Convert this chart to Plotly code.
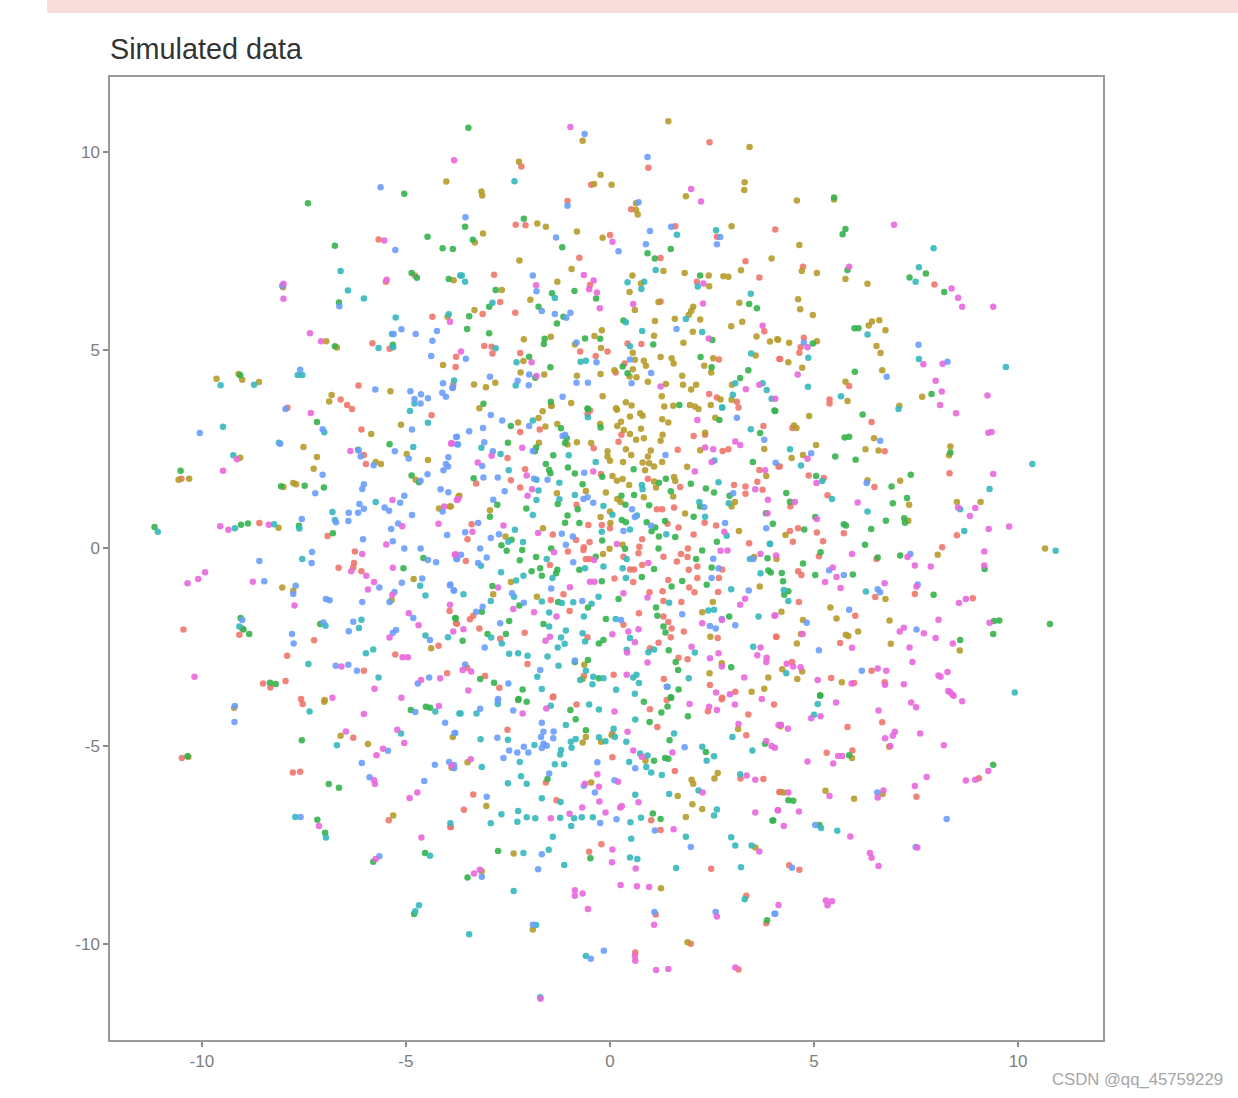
import plotly.graph_objs as go

# values, one list of (x, y) per group
red_pts = [
(-5.67,7.79),(-4.78,6.88),(-5.49,6.72),(-4.35,5.84),(-5.82,5.17),(-5.40,5.03),(-3.77,4.83),(-3.78,4.57),(-6.16,4.10),(-3.84,4.12),(-6.60,3.75),(-6.44,3.61),(-6.32,3.51),(-7.9,3.54),
(2.44,10.24),(-2.17,9.63),(0.94,9.60),(-0.46,9.17),(-1.04,8.76),(-2.31,8.16),(-2.07,8.15),(0.52,8.55),(1.60,8.12),(0.0,7.90),(-0.75,7.33),(1.24,7.32),(4.05,8.04),(2.62,7.86),(3.32,7.24),(3.66,6.83),(-2.84,6.90),(-0.49,6.64),(2.13,6.72),(-2.69,6.21),(-3.12,5.91),(-2.32,5.94),(1.24,6.22),(3.78,5.47),(-3.08,5.10),(-2.90,5.08),(-2.88,4.91),(-2.20,4.92),(-0.73,4.96),(-0.35,4.85),(-0.06,4.96),(0.43,5.16),(0.77,5.15),(0.36,4.66),(0.14,4.43),(2.67,4.76),(4.15,4.77),(2.43,3.89),(2.62,3.80),(3.11,3.69),(3.15,3.55),
(4.73,7.10),(7.95,6.65),(4.75,5.31),(4.67,5.07),(4.64,4.93),(4.17,4.77),(5.86,4.09),(5.38,3.75),(5.38,3.65),
(-4.37,3.35),(-6.09,2.99),(-6.03,2.35),(-5.98,2.12),(-10.50,1.75),(-8.59,0.63),(-6.92,0.30),(-6.25,-0.09),(-6.27,-0.38),(-6.29,-0.49),(-6.65,-0.50),(-6.09,-0.59),(-3.93,-1.59),(-3.75,-1.91),(-10.45,-2.06),(-9.08,-2.19),(-7.25,-2.33),(-4.20,-2.47),(-7.91,-2.72),(-5.26,-2.69),(-6.03,-3.10),(-7.95,-3.36),(-8.50,-3.42),(-8.32,-3.52),(-3.99,-3.16),(-7.57,-3.81),
(-7.53,-3.94),(-6.29,-4.79),(-10.49,-5.30),(-7.77,-5.67),(-7.59,-5.65),(-5.42,-6.87),(-3.91,-7.04),
(4.02,-3.95),(6.67,-4.40),(5.82,-4.52),(5.31,-5.17),(5.94,-5.11),(4.18,-6.16),(7.51,-6.28),(9.04,-5.81),(4.39,-8.01),(4.64,-8.12),
(6.41,3.18),(4.47,3.03),(6.73,2.44),(4.16,2.06),(4.87,1.83),(5.24,1.77),(8.32,1.89),(5.33,1.33),(6.48,1.54),(4.42,1.05),(5.07,0.39),(5.73,0.37),(4.61,0.50),(4.41,0.43),(4.48,0.16),(5.22,0.17),(8.50,0.32),(8.14,0.02),(5.12,-0.21),(6.53,-0.28),(4.61,-0.59),(4.69,-0.68),(6.50,-1.24),(7.47,-1.16),(4.63,-1.36),(8.89,-1.27),(6.01,-1.71),(4.08,-2.24),(5.64,-2.40),(4.46,-2.88),(6.41,-3.10),(5.42,-3.28),(5.98,-3.41),(6.73,-3.39),
(-0.55,3.38),(-0.49,3.47),(-2.20,2.93),(-1.72,2.99),(0.28,2.86),(0.21,2.68),(2.33,2.86),(2.05,2.83),(3.76,3.08),(1.66,2.48),(2.90,2.49),(2.76,2.45),(-2.51,2.27),(-0.40,2.52),(-2.08,1.99),(-0.22,1.87),(-3.28,1.63),(-2.43,1.71),(-2.20,1.53),(0.93,1.75),(1.72,1.54),(3.04,1.59),(3.32,1.55),(3.32,1.37),(3.66,1.97),(3.61,1.67),(3.74,1.47),(4.13,2.06),(-0.82,1.09),(1.15,0.98),(1.28,0.98),(1.57,1.02),(-3.39,0.60),(-0.53,0.58),(-0.20,0.58),(0,0.50),(1.41,0.61),(1.68,0.52),(2.32,0.64),(2.60,0.57),(-3.49,0.22),(-1.40,0.34),(2.05,0.34),(-0.50,0.15),(-0.83,0.20),(0.79,0.22),(3.41,0.12),(-0.64,0.02),(-0.65,-0.05),(-1.03,-0.09),(0.72,0.03),(0.70,-0.13),(0.33,-0.22),(1.91,-0.01),(1.74,-0.15),(1.90,-0.23),(1.31,-0.22),(1.64,-0.34),(-3.53,-0.33),(-1.47,-0.43),(-0.59,-0.28),(-0.50,-0.28),(0.49,-0.54),(0.59,-0.54),(0.79,-0.43),(1.93,-0.55),(2.14,-0.47),(2.75,-0.54),(0.11,-0.77),(0.57,-0.86),(1.43,-0.81),(2.14,-0.76),(2.67,-0.76),(1.94,-1.0),(2.07,-1.12),(2.65,-1.11),(0.97,-1.12),(1.29,-1.09),(1.31,-1.34),(1.75,-1.36),(-1.14,-1.17),(-1.45,-1.31),(-0.99,-1.59),(0.71,-1.65),(-3.43,-1.80),(-3.35,-1.71),(-3.77,-1.90),(-3.20,-2.03),(-2.09,-2.14),(-2.69,-2.29),(0.33,-1.94),(1.31,-1.73),(1.43,-1.87),(1.51,-2.03),(1.81,-2.11),(1.49,-2.25),(2.64,-2.27),(-0.55,-2.25),(1.19,-2.39),(0.98,-2.53),(4.07,-2.24),(-2.02,-2.93),(1.68,-2.77),(1.90,-2.81),(-3.06,-3.23),(-3.50,-3.02),(-2.71,-3.53),(-0.64,-3.23),(0.09,-3.20),(1.32,-3.31),(2.45,-3.46),(-1.39,-3.75),(2.75,-3.78),
(-1.40,-3.77),(-0.82,-3.95),(0.98,-4.07),(1.39,-3.84),(2.74,-3.82),(3.07,-3.63),(2.40,-4.12),(3.39,-4.20),(1.16,-4.52),(-2.51,-4.59),(0.06,-4.68),(3.34,-4.73),(0.06,-5.28),(1.59,-5.63),(3.76,-5.83),(3.20,-5.82),(-1.57,-5.92),(-3.35,-6.22),(4.15,-6.16),(-1.31,-6.37),(-3.58,-6.61),(1.01,-6.87),(-3.90,-7.04),(1.24,-7.12),(-0.21,-7.48),(-0.51,-7.67),(2.48,-8.10),(3.34,-8.78),(1.12,-9.25),(3.83,-9.47),(1.98,-9.99),(0.62,-10.21),(3.15,-10.64),
]
olive_pts = [
(-4.01,9.25),(-8.01,6.58),(-6.95,5.22),(-6.69,5.06),(-3.98,5.84),(-4.09,4.62),(-9.64,4.27),(-9.10,4.39),(-9.01,4.25),(-8.60,4.19),(-5.38,3.96),(-6.82,3.86),(-6.88,3.70),
(1.43,10.77),(-0.67,10.28),(-2.23,9.75),(3.42,10.12),(-0.23,9.42),(-0.39,9.19),(0.04,9.17),(3.30,9.23),(3.29,9.04),(-3.15,9.0),(-3.13,8.90),(1.86,8.88),(0.64,8.70),(0.64,8.53),(0.68,8.42),(-1.78,8.19),(-1.57,8.11),(-0.81,7.99),(-3.11,7.94),(-0.18,7.83),(-3.31,7.71),(2.98,8.12),(-2.22,7.26),(-0.94,7.04),(3.96,7.31),(3.21,7.01),(-3.83,6.76),(0.55,6.88),(1.31,6.99),(1.83,6.94),(2.42,6.88),(2.78,6.86),(2.90,6.85),(-1.29,6.72),(0.76,6.68),(2.43,6.61),(-2.65,6.51),(0.48,6.46),(-1.95,6.27),(-3.32,6.01),(0.61,6.01),(1.19,6.21),(3.17,6.19),(2.04,6.09),(1.99,5.98),(1.93,5.88),(1.10,5.73),(1.59,5.79),(2.21,5.77),(2.97,5.60),(3.24,5.71),(-0.20,5.50),(-0.38,5.35),(2.03,5.46),(1.08,5.36),(3.59,5.34),(-2.11,5.27),(-1.45,5.33),(1.80,5.18),(-0.86,5.14),(3.92,5.21),(4.10,5.27),(-0.22,5.05),(0.56,4.93),(3.57,4.86),(-2.12,4.72),(1.24,4.82),(1.51,4.79),(1.56,4.66),(0.61,4.75),(2.53,4.79),(0.83,4.73),(0.88,4.60),(2.31,4.60),(0.56,4.51),(0.11,4.49),(-2.19,4.43),(-1.61,4.38),(-0.23,4.39),(-0.81,4.35),(2.48,4.43),(1.77,4.35),(0.48,4.33),(0.65,4.31),(-3.33,4.13),(-3.04,4.06),(-2.81,4.17),(0.93,4.20),(1.79,4.12),(1.37,4.14),(2.11,4.12),(1.99,4.0),(2.99,4.12),(-0.18,3.83),(1.27,3.83),(-0.95,3.66),(0.39,3.68),(0.53,3.60),(1.33,3.57),(1.55,3.59),(1.96,3.61),(2.08,3.57),(2.47,3.61),(2.71,3.75),(2.98,3.74),(-1.44,3.59),(0.15,3.53),(-3.20,3.53),
(4.58,8.77),(5.49,8.80),(4.64,7.65),(4.70,6.99),(5.07,6.94),(5.77,6.79),(6.31,6.67),(4.61,6.28),(4.66,6.03),(4.97,5.88),(6.60,5.75),(6.42,5.72),(6.34,5.62),(6.75,5.50),(4.12,5.26),(4.39,5.18),(5.07,5.22),(6.53,5.10),(6.63,4.92),(4.37,4.69),(4.71,4.55),(6.67,4.49),(5.77,4.20),(5.82,3.71),(7.65,3.82),(7.09,3.59),
(-5.12,3.11),(-5.85,2.88),(-7.51,2.55),(-7.18,2.30),(-9.06,2.28),(-4.98,2.37),(-4.46,2.22),(-5.74,2.17),(-5.61,2.12),(-7.26,2.0),(-10.57,1.72),(-10.31,1.75),(-4.76,1.72),(-8.0,1.54),(-7.76,1.64),(-7.69,1.61),(-4.19,1.0),(-3.92,1.05),(-3.71,1.30),(-8.12,0.51),(-4.81,-0.78),(-8.03,-1.0),(-7.76,-1.08),(-5.35,-1.31),(-9.0,-2.04),(-4.38,-2.53),(-6.99,-3.84),
(-7.0,-3.88),(-9.21,-4.03),(-6.60,-4.74),(-5.93,-4.95),(-10.33,-5.27),(-5.31,-6.75),(-3.85,-4.77),(-3.88,-5.55),
(4.18,-4.50),(6.84,-5.02),(5.93,-5.30),(4.25,-6.17),(5.28,-6.13),(5.98,-6.33),(6.68,-6.21),
(4.88,3.33),(4.51,3.09),(4.57,3.03),(5.05,2.60),(4.73,2.35),(4.45,2.27),(6.47,2.77),(6.26,2.49),(6.58,2.46),(8.34,2.56),(8.31,2.34),(7.11,1.70),(6.31,1.71),(7.33,1.09),(8.50,1.16),(9.08,1.16),(7.31,0.69),(4.30,0.33),(8.03,-0.17),(4.08,-0.28),(10.66,-0.01),(6.75,-1.29),(5.40,-1.50),(4.20,-1.61),(5.55,-1.78),(4.73,-1.82),(6.85,-1.83),(6.08,-2.11),(5.78,-2.19),(5.84,-2.22),(4.68,-2.17),(4.58,-2.41),(6.88,-2.42),(8.57,-2.59),(4.22,-3.06),(4.71,-3.12),(4.59,-3.31),(5.68,-3.39),
(-2.25,3.17),(-1.65,3.45),(-1.75,3.28),(-1.58,3.07),(-1.43,3.59),(-1.29,3.13),(-0.81,2.67),(-1.74,2.66),(-0.24,3.13),(-0.46,2.65),(-1.04,2.61),(0.17,3.49),(0.18,3.08),(0.27,3.19),(0.49,3.32),(0.74,3.40),(0.80,3.34),(0.34,2.98),(0.49,2.88),(0.76,3.01),(0.64,2.73),(0.83,2.77),(1.28,3.25),(1.43,3.17),(2.17,3.51),(2.58,3.29),(1.29,2.86),(1.24,2.71),(-0.06,2.44),(-0.06,2.31),(0,2.20),(0.32,2.17),(0.39,2.49),(0.52,2.35),(1.0,2.46),(0.93,2.31),(0.80,2.16),(0.96,2.14),(1.08,2.06),(0.86,1.96),(1.28,2.17),(1.89,2.05),(2.21,2.47),(2.33,2.91),(3.78,2.50),(3.83,1.82),(0.06,1.82),(0.17,1.70),(0.31,1.74),(0.47,1.59),(1.08,1.68),(1.13,1.53),(1.57,1.79),(1.60,1.69),(-0.10,1.40),(-0.59,1.44),(-1.30,1.38),(0.83,1.28),(1.55,1.30),(0.18,1.24),(0.26,1.16),(0,0.92),(-0.23,0.78),(1.84,0.87),(3.06,1.16),(2.98,1.05),(0.01,0.63),(-1.64,0.50),(3.16,0.43),(-2.94,0.95),(-3.69,1.32),(-3.90,1.05),(-2.56,0.29),(0.31,0.08),(-0.01,-0.02),(-0.17,-0.15),(-2.43,-0.86),(-2.86,-1.17),(-1.79,-1.23),(2.52,-1.36),(2.26,-1.62),(3.53,-0.23),(3.67,-0.97),(2.46,-2.24),(2.74,-2.91),(3.88,-3.27),(2.44,-3.16),(3.47,-3.63),(3.78,-3.55),(-0.63,-2.95),(-0.67,-3.31),
(-3.49,-5.41),(0.04,-4.73),(-0.59,-4.77),(-0.67,-4.91),(-0.22,-4.89),(0.87,-5.37),(1.66,-6.26),(2.02,-6.47),(2.26,-6.59),(1.86,-6.79),(-3.03,-6.51),(2.0,-5.85),(2.04,-5.95),(2.56,-5.82),(2.64,-5.68),(3.14,-4.57),(3.56,-7.56),(-2.36,-7.71),(-3.14,-8.16),(1.25,-8.59),(-1.89,-9.63),(1.90,-9.95),(-0.46,-5.92),
]
green_pts = [
(-7.40,8.70),(-5.04,8.94),(-4.47,7.86),(-6.74,7.63),(-4.10,7.57),(-3.85,7.55),(-4.86,6.94),(-4.73,6.82),(-3.95,6.79),(-6.64,6.20),(-6.74,5.09),(-5.32,5.13),(-9.06,4.36),
(-3.47,10.61),(-2.11,8.31),(-3.55,8.11),(-3.36,7.78),(-1.17,7.59),(0.92,7.44),(1.10,7.31),(1.49,7.55),(-2.80,6.51),(-0.87,6.49),(-1.42,6.43),(-0.34,6.30),(-2.96,6.09),(-1.75,6.09),(-3.45,5.85),(-1.14,5.84),(-1.30,5.67),(0.33,5.74),(-3.50,5.53),(-2.96,5.42),(-0.61,5.29),(-0.24,5.28),(-1.6,5.28),(-1.62,5.15),(1.06,5.14),(-1.98,4.83),(-1.46,4.56),(0.31,4.58),(0.43,4.41),(-1.83,4.30),(2.21,6.88),(3.41,6.16),(3.60,6.05),(2.22,4.82),(2.49,4.56),(2.51,5.25),(3.39,4.49),(3.19,4.29),(-3.10,3.64),(-1.45,3.69),(-0.55,3.52),(1.70,3.61),
(5.49,8.85),(5.77,8.05),(5.70,7.92),(5.82,7.02),(7.34,6.83),(7.74,6.93),(8.19,6.46),(5.99,5.55),(6.09,5.55),(4.97,5.16),(6.0,4.45),(7.88,3.89),
(-7.18,3.18),(-5.40,2.62),(-6.17,2.48),(-10.52,1.95),(-4.86,1.83),(-4.68,1.66),(-8.06,1.56),(-7.48,1.57),(-7.01,1.53),(-11.16,0.53),(-9.04,0.59),(-8.87,0.62),(-7.62,0.56),(-6.79,0.37),(-4.57,-0.25),(-5.06,-0.51),(-9.05,-1.77),(-8.98,-2.06),(-8.84,-2.17),(-7.10,-1.92),(-3.78,-1.78),(-8.33,-3.40),(-8.19,-3.43),
(-4.88,-4.09),(-4.51,-4.01),(-4.41,-4.03),(-7.55,-4.85),(-6.89,-5.96),(-6.64,-6.05),(-7.17,-6.86),(-6.98,-7.19),(-4.53,-7.70),(-5.80,-7.92),(-4.80,-9.24),(-10.35,-5.26),
(5.15,-3.72),(5.86,-5.23),(9.39,-5.47),(4.37,-6.37),(4.49,-6.38),(4.0,-6.88),(5.13,-6.99),
(4.03,3.47),(6.19,3.37),(5.75,2.79),(5.86,2.81),(5.52,2.31),(6.02,2.23),(8.34,2.41),(5.05,1.82),(7.37,1.85),(4.32,1.39),(6.90,1.55),(7.28,1.26),(4.41,1.17),(6.93,1.13),(5.03,0.78),(6.76,0.69),(7.21,0.75),(7.23,0.64),(5.73,0.60),(5.78,0.57),(6.40,0.48),(3.99,0.61),(4.76,0.47),(6.25,0.08),(5.16,-0.11),(6.56,-0.24),(7.11,-0.19),(4.73,-0.39),(4.21,-0.63),(3.94,-0.62),(5.03,-0.68),(5.95,-0.67),(4.24,-0.84),(4.37,-1.09),(4.27,-1.18),(7.93,-1.18),(9.18,-0.53),(9.41,-1.84),(9.54,-1.83),(9.39,-2.17),(10.78,-1.92),(8.58,-2.32),(5.15,-3.73),
(-2.43,3.08),(-0.54,3.50),(-1.20,3.02),(-2.50,2.66),(-1.06,2.77),(-1.10,2.65),(-1.81,2.54),(-1.84,2.44),(-1.39,2.34),(-0.23,3.04),(2.68,3.23),(4.05,3.46),(3.68,2.90),(3.50,2.17),(-1.57,2.12),(-1.49,1.97),(-1.46,1.89),(-1.03,2.03),(-0.86,1.88),(-3.34,1.76),(-0.19,1.80),(0.58,1.99),(-0.67,1.61),(1.20,1.65),(1.37,1.75),(1.98,1.62),(2.35,1.50),(2.55,1.40),(1.49,1.43),(2.93,1.32),(0.28,1.32),(0.59,1.34),(-2.76,1.09),(-2.05,1.0),(-1.28,1.11),(-0.79,0.98),(0.38,1.09),(0.96,1.08),(2.21,1.05),(2.05,0.79),(-2.94,0.79),(-1.04,0.82),(-1.10,0.64),(-0.75,0.63),(0.29,0.71),(0.39,0.65),(0.90,0.65),(1.35,0.68),(1.11,0.52),(1.02,0.42),(1.20,0.29),(1.60,0.28),(3.82,0.88),(-0.19,0.19),(-2.66,0.07),(-2.53,-0.07),(-2.41,0.21),(-2.15,-0.05),(-2.21,-0.31),(-1.44,-0.01),(-1.81,-0.23),(-1.71,-0.51),(-1.67,-0.70),(-1.92,-0.59),(-1.29,-0.55),(-1.32,-0.64),(-0.35,-0.22),(0.37,-0.02),(1.19,-0.01),(2.26,-0.06),(2.11,-0.28),(2.49,-0.49),(2.62,0.16),(3.86,-0.26),(3.88,-0.57),(-0.75,-0.55),(-0.20,-0.84),(1.08,-0.53),(0.78,-0.73),(1.77,-0.83),(1.51,-0.97),(2.37,-0.93),(-2.88,-0.96),(-1.27,-1.36),(-0.54,-1.50),(0.21,-1.29),(1.13,-1.50),(-2.22,-1.45),(-3.14,-1.61),(-3.79,-1.77),(-2.47,-1.84),(-0.10,-1.79),(1.16,-1.71),(2.92,-1.73),(-1.63,-1.92),(-3.0,-2.17),(-2.55,-2.17),(-3.61,-2.34),(-0.16,-2.32),(-0.27,-2.41),(1.31,-1.98),(1.36,-2.13),(1.44,-2.58),(-0.86,-2.88),(-0.54,-2.83),(1.61,-2.88),(1.67,-3.08),(2.97,-3.01),(-3.18,-3.31),(-2.84,-3.40),(-2.14,-3.57),(-0.27,-3.29),(1.68,-3.57),(-2.24,-3.81),(1.49,-3.77),
(-2.25,-3.84),(-2.04,-3.88),(-0.97,-4.09),(-0.84,-4.32),(-0.59,-4.60),(0.83,-3.88),(1.26,-4.15),(1.41,-4.0),(1.50,-3.78),(1.91,-4.25),(0.97,-4.39),(1.46,-4.85),(2.35,-5.15),(3.80,-4.94),(1.08,-5.37),(1.35,-5.30),(1.43,-5.32),(-1.53,-5.83),(1.05,-6.70),(1.24,-6.84),(3.98,-6.88),(-2.74,-7.65),(-0.48,-7.83),(-3.49,-8.32),(3.85,-9.40),
]
teal_pts = [
(-6.60,6.99),(-6.42,6.50),(-6.03,6.30),(-5.25,5.82),(-5.34,5.40),(-5.67,5.05),(-5.31,5.07),(-7.65,4.37),(-7.54,4.37),(-9.54,4.11),(-8.72,4.12),(-3.95,5.90),(-3.82,4.23),(-4.79,3.65),(-3.67,6.88),
(-2.34,9.26),(-3.63,6.88),(-3.55,6.72),(0.43,6.71),(0.84,6.72),(0.77,6.54),(1.12,7.02),(1.64,7.91),(2.60,8.02),(2.15,6.60),(3.45,6.42),(-1.35,6.31),(-2.88,6.19),(0.39,5.70),(1.86,5.78),(0.79,5.48),(2.26,5.45),(-2.80,5.04),(0.49,5.09),(3.46,4.91),(-2.29,4.69),(-0.72,4.70),(-0.59,4.73),(-2.31,4.10),(3.07,4.16),(3.74,4.16),(3.84,3.99),(3.96,3.77),(3.01,3.87),(2.75,3.55),
(7.93,7.57),(7.57,7.09),(7.49,6.72),(6.31,5.39),(4.86,4.80),(7.57,4.77),(9.70,4.57),(4.85,4.07),(5.66,3.83),(7.07,3.51),
(-9.48,3.06),(-7.0,2.92),(-8.11,2.66),(-4.46,3.16),(-4.90,3.46),(-4.82,2.55),(-9.23,2.34),(-5.74,1.16),(-6.80,0.91),(-6.74,0.71),(-8.23,0.60),(-9.19,0.50),(-11.08,0.41),(-7.61,0.49),(-7.54,-0.28),(-4.65,-0.95),(-4.52,-1.20),(-6.09,-1.81),(-6.15,-2.02),(-6.97,-1.96),(-9.08,-1.98),(-4.52,-2.21),(-3.97,-2.25),(-5.80,-2.56),(-5.98,-2.66),(-7.39,-2.93),(-5.67,-3.27),
(-7.36,-4.13),(-4.28,-4.13),(-5.12,-4.68),(-6.69,-4.98),(-7.71,-6.79),(-6.96,-7.31),(-4.41,-7.77),(-4.68,-9.02),(-4.77,-9.17),(-3.91,-6.95),(-3.69,-4.18),
(5.09,-3.94),(5.0,-4.21),(5.17,-7.07),(5.57,-7.14),(9.92,-3.65),
(4.41,2.49),(4.68,2.08),(5.20,1.69),(5.44,1.24),(9.30,1.49),(6.31,0.92),(8.58,0.98),(10.35,2.12),(8.68,0.43),(10.92,-0.07),(4.26,-1.06),(4.37,-1.34),(6.27,-1.10),(4.32,-3.16),(3.92,0.10),
(-0.54,3.30),(-1.89,3.22),(2.75,3.55),(-3.15,2.53),(-2.68,2.37),(-1.01,2.34),(-0.35,2.17),(3.45,3.0),(2.56,2.21),(-2.48,1.96),(-1.80,1.72),(-1.24,1.65),(0.78,1.59),(0.80,1.48),(2.66,1.66),(-1.75,1.45),(-0.86,1.34),(-1.80,1.21),(-1.24,1.23),(-0.16,1.06),(-1.89,0.83),(0.06,0.84),(0.66,0.82),(2.19,1.16),(2.91,1.13),(2.33,0.79),(-2.33,0.46),(0.49,0.47),(-0.20,0.41),(1.38,0.35),(2.86,0.31),(3.92,0.11),(-2.13,0.15),(-2.49,0.16),(-1.55,-0.28),(-0.61,-0.51),(-0.16,-0.47),(0.41,-0.28),(0.31,-0.51),(-2.67,-0.61),(-2.12,-0.70),(-2.30,-0.82),(-1.41,-0.76),(0.39,-0.76),(-3.16,-0.45),(3.43,-0.28),(3.69,-0.64),(2.97,-1.04),(-3.59,-1.17),(-2.35,-1.23),(-2.92,-1.34),(-0.28,-1.23),(-1.67,-1.35),(-0.90,-1.37),(-0.45,-1.41),(-1.18,-1.39),(1.45,-1.38),(2.41,-1.58),(2.55,-1.56),(3.64,-1.73),(-1.49,-1.63),(-0.64,-1.73),(0.14,-1.79),(-1.49,-1.98),(-2.91,-2.26),(-2.65,-2.41),(-1.08,-2.08),(-1.20,-2.26),(-1.11,-2.42),(-1.28,-2.51),(-0.67,-2.15),(-0.61,-2.36),(0.49,-2.27),(0.41,-2.57),(1.08,-2.56),(0.94,-2.63),(2.08,-2.64),(-2.47,-2.67),(-2.25,-2.66),(-2.02,-2.72),(-1.53,-2.74),(-1.26,-2.97),(-0.59,-3.10),(-1.78,-3.25),(-0.73,-3.33),(-0.41,-3.25),(-0.16,-3.29),(-0.43,-3.44),(0.57,-3.27),(0.65,-3.20),(0.71,-3.41),(1.93,-3.29),(-1.67,-3.56),(0.15,-3.58),(0.61,-3.68),(1.41,-3.50),(3.51,-2.49),
(-3.66,-4.18),(-3.27,-4.18),(-2.75,-3.94),(-1.45,-3.98),(-0.51,-3.95),(-0.27,-4.08),(0.62,-4.33),(-1.08,-4.47),(-3.17,-4.83),(-2.50,-4.84),(-1.85,-4.97),(-0.96,-4.89),(-0.84,-4.82),(-0.94,-5.04),(-0.27,-4.78),(-0.11,-4.88),(0.09,-4.56),(0.12,-4.77),(0.40,-4.89),(-1.20,-5.10),(-1.22,-5.21),(-2.21,-5.40),(0.47,-5.40),(-1.35,-5.46),(-1.12,-5.46),(-3.14,-5.53),(-2.18,-5.76),(-2.04,-5.95),(-2.50,-5.94),(0.74,-5.19),(0.92,-5.24),(0.89,-5.53),(1.01,-5.67),(1.27,-5.73),(1.57,-4.68),(2.26,-5.02),(2.37,-5.37),(2.55,-5.26),(3.0,-4.77),(3.49,-5.11),(3.19,-5.71),(2.17,-6.12),(1.45,-6.21),(0.62,-6.23),(-1.67,-6.32),(-1.21,-6.41),(-2.25,-6.64),(-2.66,-6.72),(-2.27,-6.91),(-2.92,-6.95),(-2.04,-6.80),(-1.83,-6.82),(-1.22,-6.81),(-0.88,-6.82),(-0.69,-6.80),(-0.42,-6.80),(-0.95,-7.02),(0.50,-6.92),(0.76,-6.81),(2.55,-6.75),(2.62,-6.60),(-1.40,-7.29),(0.52,-7.34),(1.86,-7.29),(2.97,-7.30),(3.07,-7.51),(3.47,-7.51),(-2.12,-7.70),(-1.50,-7.62),(-1.12,-8.0),(0.49,-7.81),(0.67,-7.85),(1.62,-8.08),(3.21,-8.06),(-2.36,-8.66),(3.30,-8.87),(-3.45,-9.75),(-0.59,-10.30),(-1.81,-9.52),(-1.71,-11.34),
]
blue_pts = [
(-5.62,9.11),(-5.26,7.52),(-8.03,6.62),(-6.63,6.10),(-5.3,5.4),(-5.11,5.52),(-4.76,5.40),(-4.24,5.48),(-4.35,5.23),(-4.38,4.85),(-7.59,4.50),(-5.75,4.0),(-4.89,3.96),(-4.63,3.88),(-4.79,3.76),(-4.46,3.78),(-4.64,3.65),(-4.09,4.16),(-4.11,3.92),(-4.02,3.82),(-3.86,4.04),(-7.95,3.51),
(-0.62,10.45),(0.92,9.87),(0.70,8.73),(-1.04,8.64),(-3.54,8.35),(0.98,8.0),(-1.32,7.84),(1.50,8.11),(0.88,7.67),(0.21,7.49),(2.70,7.85),(2.62,7.67),(-1.89,6.88),(-1.80,6.48),(-1.35,5.91),(-1.67,5.98),(-0.97,5.94),(-1.07,5.81),(1.63,5.53),(-0.82,5.19),(-3.53,4.78),(-0.33,4.69),(0.49,4.76),(1.01,4.42),(-2.94,4.32),(-1.98,4.38),(-2.26,4.22),(-1.99,4.11),(-0.82,4.17),(-0.54,4.17),(0.53,4.16),(-3.85,4.05),(-1.16,3.82),
(4.75,5.18),(7.56,5.13),(8.27,4.70),(6.78,4.32),
(-10.05,2.90),(-7.04,3.0),(-8.08,2.63),(-4.85,2.99),(-5.27,2.44),(-6.11,2.31),(-6.16,2.46),(-5.79,2.09),(-4.93,2.26),(-3.96,2.29),(-4.02,2.12),(-3.97,2.06),(-4.08,1.96),(-4.47,1.86),(-7.04,1.85),(-4.64,1.70),(-6.03,1.61),(-6.07,1.49),(-4.15,1.48),(-3.96,1.41),(-7.22,1.38),(-5.04,1.32),(-5.14,1.14),(-6.14,1.11),(-6.03,0.99),(-6.17,0.89),(-6.40,0.89),(-6.41,0.68),(-5.52,1.02),(-5.41,0.94),(-4.85,0.83),(-4.10,0.92),(-6.71,0.65),(-7.55,0.73),(-5.36,0.48),(-5.19,0.62),(-3.99,0.33),(-6.05,0.22),(-5.32,0.17),(-5.04,-0.01),(-4.64,-0.01),(-7.30,-0.10),(-7.31,-0.38),(-8.59,-0.33),(-4.46,-0.30),(-4.26,-0.36),(-3.75,-0.28),(-8.47,-0.84),(-7.70,-0.95),(-7.76,-1.16),(-5.65,-1.0),(-5.10,-0.88),(-4.60,-0.77),(-3.91,-0.92),(-3.83,-1.07),(-5.28,-1.11),(-5.40,-1.36),(-6.07,-1.36),(-6.96,-1.29),(-6.87,-1.32),(-9.01,-1.82),(-4.82,-1.77),(-6.29,-1.86),(-7.02,-1.88),(-6.40,-2.10),(-5.24,-2.07),(-5.32,-2.14),(-7.79,-2.17),(-7.75,-2.41),(-4.41,-2.32),(-6.41,-2.95),(-6.72,-2.97),(-6.20,-3.10),(-4.43,-3.27),(-4.71,-3.42),(-3.75,2.81),(-3.75,2.62),
(-9.19,-3.99),(-9.20,-4.39),(-4.77,-4.14),(-4.04,-4.41),(-5.44,-5.12),(-6.08,-5.43),(-5.89,-5.79),(-4.55,-5.88),(-4.29,-5.47),(-3.94,-5.40),(-3.82,-5.56),(-3.79,-4.67),(-7.58,-6.79),(-5.65,-7.78),
(6.55,-6.17),(8.25,-6.84),(5.03,-6.99),(7.49,-7.55),(4.46,-8.07),(4.03,-9.23),
(4.93,2.39),(4.06,2.15),(6.62,2.71),(6.29,1.64),(7.36,-0.15),(5.37,-0.56),(5.73,-0.68),(6.56,-1.04),(6.62,-1.12),(7.54,-0.92),(5.86,-1.56),(4.82,-1.89),(7.51,-2.06),(5.12,-2.58),(6.17,-3.10),
(-2.92,3.36),(-2.64,3.22),(-3.45,2.95),(-3.11,3.03),(-1.98,3.08),(-3.77,2.80),(-3.72,2.61),(-3.08,2.67),(-1.16,2.83),(-1.10,2.86),(-2.87,2.44),(-1.89,2.45),(1.36,2.35),(3.78,2.73),(3.11,3.29),(-3.13,2.07),(-3.10,1.78),(-2.75,1.78),(-0.63,1.90),(-1.53,1.72),(-1.86,1.75),(-2.58,1.43),(-2.86,1.22),(-0.65,1.24),(-0.55,1.28),(-0.41,1.14),(3.02,1.38),(2.31,1.03),(0.54,0.98),(0.61,0.78),(-3.23,0.63),(-3.55,0.40),(-2.92,0.25),(-2.72,0.35),(-1.18,0.36),(-0.91,0.29),(0.33,0.43),(1.01,0.56),(2.82,0.63),(3.83,0.50),(-3.18,-0.01),(-1.08,0.08),(-3.76,-0.28),(-3.65,-0.17),(-3.02,-0.24),(-3.23,-0.38),(-0.90,-0.36),(2.53,-0.27),(2.66,-0.51),(3.51,-0.28),(2.49,-0.76),(-3.92,-0.94),(-3.82,-1.07),(-1.44,-1.02),(3.40,-1.07),(-2.40,-1.14),(-2.11,-1.38),(-0.68,-1.34),(-3.12,-1.48),(-3.28,-1.61),(-2.69,-1.90),(1.77,-1.67),(2.74,-1.79),(3.07,-1.95),(2.45,-1.97),(2.59,-2.03),(0.27,-1.82),(-3.07,-2.51),(-3.55,-2.94),(-1.71,-3.08),(-0.86,-2.84),(-2.49,-3.42),(-2.74,-3.81),(1.39,-3.50),
(-3.18,-4.06),(-2.75,-3.86),(-2.37,-4.10),(-3.81,-4.67),(-2.76,-4.79),(-2.47,-5.11),(-2.27,-5.16),(-2.11,-5.02),(-2.0,-5.16),(-2.61,-5.30),(-1.67,-4.41),(-1.63,-4.64),(-1.69,-4.77),(-1.38,-4.63),(-1.39,-4.80),(-1.63,-4.94),(-1.55,-4.99),(-1.67,-5.05),(-0.31,-5.41),(-1.49,-5.69),(0.62,-5.56),(1.83,-5.03),(-0.64,-6.0),(-0.37,-6.17),(0.11,-5.86),(-3.02,-6.28),(0.16,-6.85),(-0.24,-6.94),(1.10,-7.13),(1.98,-7.55),(-1.67,-7.73),(-1.76,-8.11),(-3.14,-8.30),(1.09,-9.19),(2.59,-9.19),(4.05,-9.23),(-1.89,-9.51),(-0.47,-10.37),(-0.15,-10.17),(-3.82,-5.48),
]
pink_pts = [
(-3.82,9.79),(-5.53,7.76),(-8.0,6.67),(-8.0,6.29),(-7.35,5.42),(-7.08,5.22),(-5.47,6.77),(-3.92,5.71),
(-0.97,10.63),(1.99,9.06),(2.23,8.75),(0.06,7.73),(-0.64,6.89),(-0.40,6.75),(-1.81,6.63),(-0.51,6.53),(-0.32,6.45),(2.29,6.68),(0.57,6.16),(-0.25,6.05),(2.28,6.17),(3.74,5.61),(2.42,5.29),(-3.65,4.96),(-1.92,4.69),(-1.80,4.34),(1.24,4.08),(3.33,4.01),(3.66,4.12),(4.05,3.77),
(6.96,8.16),(5.86,7.10),(8.37,6.55),(8.53,6.32),(8.63,6.09),(9.39,6.09),(4.84,5.07),(4.60,4.38),(7.68,4.64),(8.15,4.65),(7.98,4.22),(8.13,3.95),(8.09,3.61),(9.25,3.85),
(-7.33,3.41),(-6.36,2.45),(-3.89,2.63),(-9.14,2.24),(-9.48,1.95),(-5.33,1.21),(-3.75,1.21),(-4.06,1.05),(-9.55,0.55),(-9.35,0.46),(-8.36,0.59),(-4.20,0.61),(-5.09,0.55),(-5.48,0.09),(-6.07,-0.15),(-3.78,-0.16),(-9.92,-0.61),(-10.09,-0.78),(-10.35,-0.89),(-8.75,-0.85),(-5.32,-0.50),(-6.34,-0.59),(-5.97,-0.70),(-5.78,-0.86),(-5.93,-1.05),(-5.33,-1.18),(-7.73,-1.45),(-3.92,-1.43),(-4.93,-1.65),(-4.69,-1.95),(-5.40,-2.26),(-3.84,-2.11),(-5.08,-2.76),(-4.95,-2.76),(-6.58,-2.99),(-10.18,-3.25),(-4.16,-3.29),(-4.63,-3.33),(-5.77,-3.55),(-6.80,-3.78),(-5.11,-3.78),
(-6.03,-4.19),(-4.19,-3.99),(-6.47,-4.63),(-5.21,-4.59),(-5.04,-4.92),(-5.72,-5.23),(-5.56,-5.07),(-5.78,-5.86),(-5.76,-5.96),(-4.72,-6.17),(-4.91,-6.31),(-7.13,-7.02),(-4.62,-7.31),(-5.74,-7.85),(-3.88,-5.49),
(5.54,-3.90),(6.58,-4.10),(7.38,-3.90),(7.50,-4.02),(8.63,-3.87),(8.33,-3.64),(8.42,-3.73),(4.93,-4.30),(5.16,-4.25),(4.19,-4.46),(4.36,-4.56),(6.74,-4.80),(6.98,-4.64),(6.93,-4.74),(7.60,-4.68),(8.18,-4.98),(6.87,-5.0),(4.04,-5.04),(4.84,-5.39),(5.59,-5.25),(5.69,-5.25),(5.47,-5.44),(7.76,-5.78),(8.72,-5.87),(8.95,-5.85),(9.27,-5.63),(7.47,-6.01),(6.70,-6.12),(6.56,-6.30),(4.37,-6.17),(5.38,-6.26),(4.12,-6.62),(4.63,-6.65),(4.26,-7.02),(5.89,-7.28),(7.53,-7.56),(6.37,-7.70),(6.41,-7.82),(6.58,-8.03),(4.13,-9.01),(5.29,-8.90),(5.44,-8.92),(5.33,-9.02),
(9.27,2.91),(9.35,2.93),(8.48,3.40),(4.84,2.25),(9.39,1.87),(5.06,1.64),(4.53,1.16),(6.07,1.15),(8.53,1.02),(8.95,1.01),(8.82,0.81),(5.07,0.73),(9.28,0.48),(9.78,0.54),(9.17,-0.09),(9.17,-0.44),(4.07,-0.19),(5.93,-0.15),(7.29,-0.23),(7.47,-0.44),(7.86,-0.47),(5.46,-0.49),(5.55,-0.73),(5.27,-0.86),(6.73,-0.89),(5.65,-1.01),(7.51,-0.97),(8.55,-1.39),(8.72,-1.29),(4.03,-1.71),(8.05,-1.81),(9.30,-1.89),(4.72,-2.17),(7.20,-2.01),(7.10,-2.11),(7.69,-2.15),(7.98,-2.27),(8.40,-2.41),(5.93,-2.52),(7.34,-2.51),(7.41,-2.88),(4.33,-2.92),(4.49,-2.99),(4.67,-3.01),(6.56,-3.04),(6.77,-3.10),(8.27,-3.13),(8.05,-3.22),(8.10,-3.25),(5.09,-3.33),(5.92,-3.42),(6.74,-3.45),(7.20,-3.44),(8.29,-3.61),(8.39,-3.70),
(2.14,3.23),(-3.88,2.65),(-2.15,2.53),(-2.90,2.33),(-3.24,2.16),(-2.04,1.83),(-0.41,1.93),(2.08,1.93),(2.33,2.54),(2.53,2.49),(2.49,2.17),(3.07,2.69),(3.19,2.60),(3.80,1.96),(-1.91,1.48),(-2.02,1.32),(-3.72,1.24),(3.56,1.48),(3.87,1.22),(3.86,0.88),(-2.61,0.57),(-3.37,0.41),(-1.76,0.38),(2.80,0.41),(0.17,0.10),(-3.80,-0.17),(-1.37,-0.11),(2.71,-0.07),(2.88,-0.06),(3.69,-0.15),(0.94,-0.38),(-0.39,-0.30),(-0.49,-0.85),(-0.38,-0.85),(-2.74,-1.0),(-0.98,-0.99),(0.33,-1.14),(0.92,-1.25),(3.31,-1.28),(3.19,-1.43),(-2.37,-1.54),(-1.86,-1.62),(-1.31,-1.73),(2.74,-1.82),(2.26,-1.90),(4.05,-1.70),(-3.59,-2.05),(0.45,-2.11),(0.70,-2.05),(0.06,-2.18),(-1.47,-2.24),(-1.58,-2.34),(0.61,-2.38),(2.0,-2.49),(3.69,-2.51),(3.61,-2.71),(3.84,-2.77),(3.83,-2.88),(0.42,-2.64),(2.66,-2.66),(2.45,-2.78),(0.92,-2.89),(2.74,-2.99),(-3.61,-3.08),(-3.40,-3.12),(0.41,-3.20),(3.29,-3.27),(-3.47,-3.60),(2.60,-3.65),(2.94,-3.69),(3.72,-3.81),
(-1.56,-4.05),(-2.14,-4.18),(0.11,-4.13),(1.95,-3.94),(2.62,-4.09),(2.43,-4.01),(3.06,-3.95),(3.15,-4.44),(0.43,-4.64),(4.13,-4.47),(0.57,-5.11),(0.78,-5.27),(1.53,-5.16),(3.83,-4.87),(3.96,-5.0),(-3.41,-5.33),(-0.31,-5.71),(3.35,-5.74),(3.56,-5.85),(-0.61,-5.95),(-0.27,-6.03),(0.2,-5.90),(2.27,-6.17),(-0.26,-6.40),(0.70,-6.42),(-0.68,-6.55),(0.29,-6.51),(0.25,-6.55),(-0.99,-6.71),(-0.11,-6.68),(-1.45,-6.82),(4.11,-6.62),(3.56,-6.68),(1.56,-7.10),(0.06,-7.61),(0.05,-7.93),(0.63,-8.09),(3.66,-7.66),(-3.19,-8.12),(-3.33,-8.22),(0.26,-8.51),(0.66,-8.54),(0.96,-8.56),(-0.86,-8.64),(-0.86,-8.78),(-0.67,-8.72),(-0.54,-9.11),(1.08,-9.51),(2.62,-9.30),(0.61,-10.30),(0.62,-10.42),(1.13,-10.65),(1.43,-10.63),(3.07,-10.59),(-1.70,-11.38),
]
groups = [
    ("1", red_pts, "#ee766c"),
    ("2", olive_pts, "#b69c2a"),
    ("3", green_pts, "#35b24c"),
    ("4", teal_pts, "#36b8bd"),
    ("5", blue_pts, "#6a9dfb"),
    ("6", pink_pts, "#e868dc"),
]
tick_vals = [-10, -5, 0, 5, 10]
tick_text = ["-10", "-5", "0", "5", "10"]

fig = go.Figure()
for name, pts, colour in groups:
    fig.add_trace(go.Scatter(
        x=[p[0] for p in pts],
        y=[p[1] for p in pts],
        mode="markers",
        name=name,
        marker=dict(size=6.5, color=colour, opacity=0.9, line=dict(width=0)),
    ))

axis = dict(
    tickmode="array",
    tickvals=tick_vals,
    ticktext=tick_text,
    ticks="outside",
    ticklen=5,
    tickwidth=2,
    tickcolor="#8a8a8a",
    tickfont=dict(family="Liberation Sans", size=17, color="#7d7d7d"),
    showgrid=False,
    zeroline=False,
    showline=True,
    mirror=True,
    linewidth=1.5,
    linecolor="#9a9a9a",
)
fig.update_layout(
    width=1238,
    height=1098,
    margin=dict(l=110, r=135, t=77, b=58),
    paper_bgcolor="white",
    plot_bgcolor="white",
    showlegend=False,
    title=dict(
        text="Simulated data",
        x=110 / 1238,
        xanchor="left",
        y=1 - 49 / 1098,
        yanchor="middle",
        font=dict(family="Liberation Sans", size=28.8, color="#333333"),
    ),
    xaxis=dict(axis, range=[-12.25, 12.08]),
    yaxis=dict(axis, range=[-12.42, 11.89]),
    shapes=[dict(
        type="rect", xref="paper", yref="paper",
        x0=-0.0634, x1=1.136, y0=1.0665, y1=1.08,
        fillcolor="#f7dedb", line=dict(width=0), layer="below",
    )],
    annotations=[dict(
        text="CSDN @qq_45759229",
        xref="paper", yref="paper",
        x=1.1226, y=-0.0415,
        xanchor="right", yanchor="middle",
        showarrow=False,
        font=dict(family="Liberation Sans", size=16.7, color="#a6a6a6"),
    )],
)
fig.write_html("out.html", config={"displayModeBar": False}, post_script="document.body.style.margin='0';")
